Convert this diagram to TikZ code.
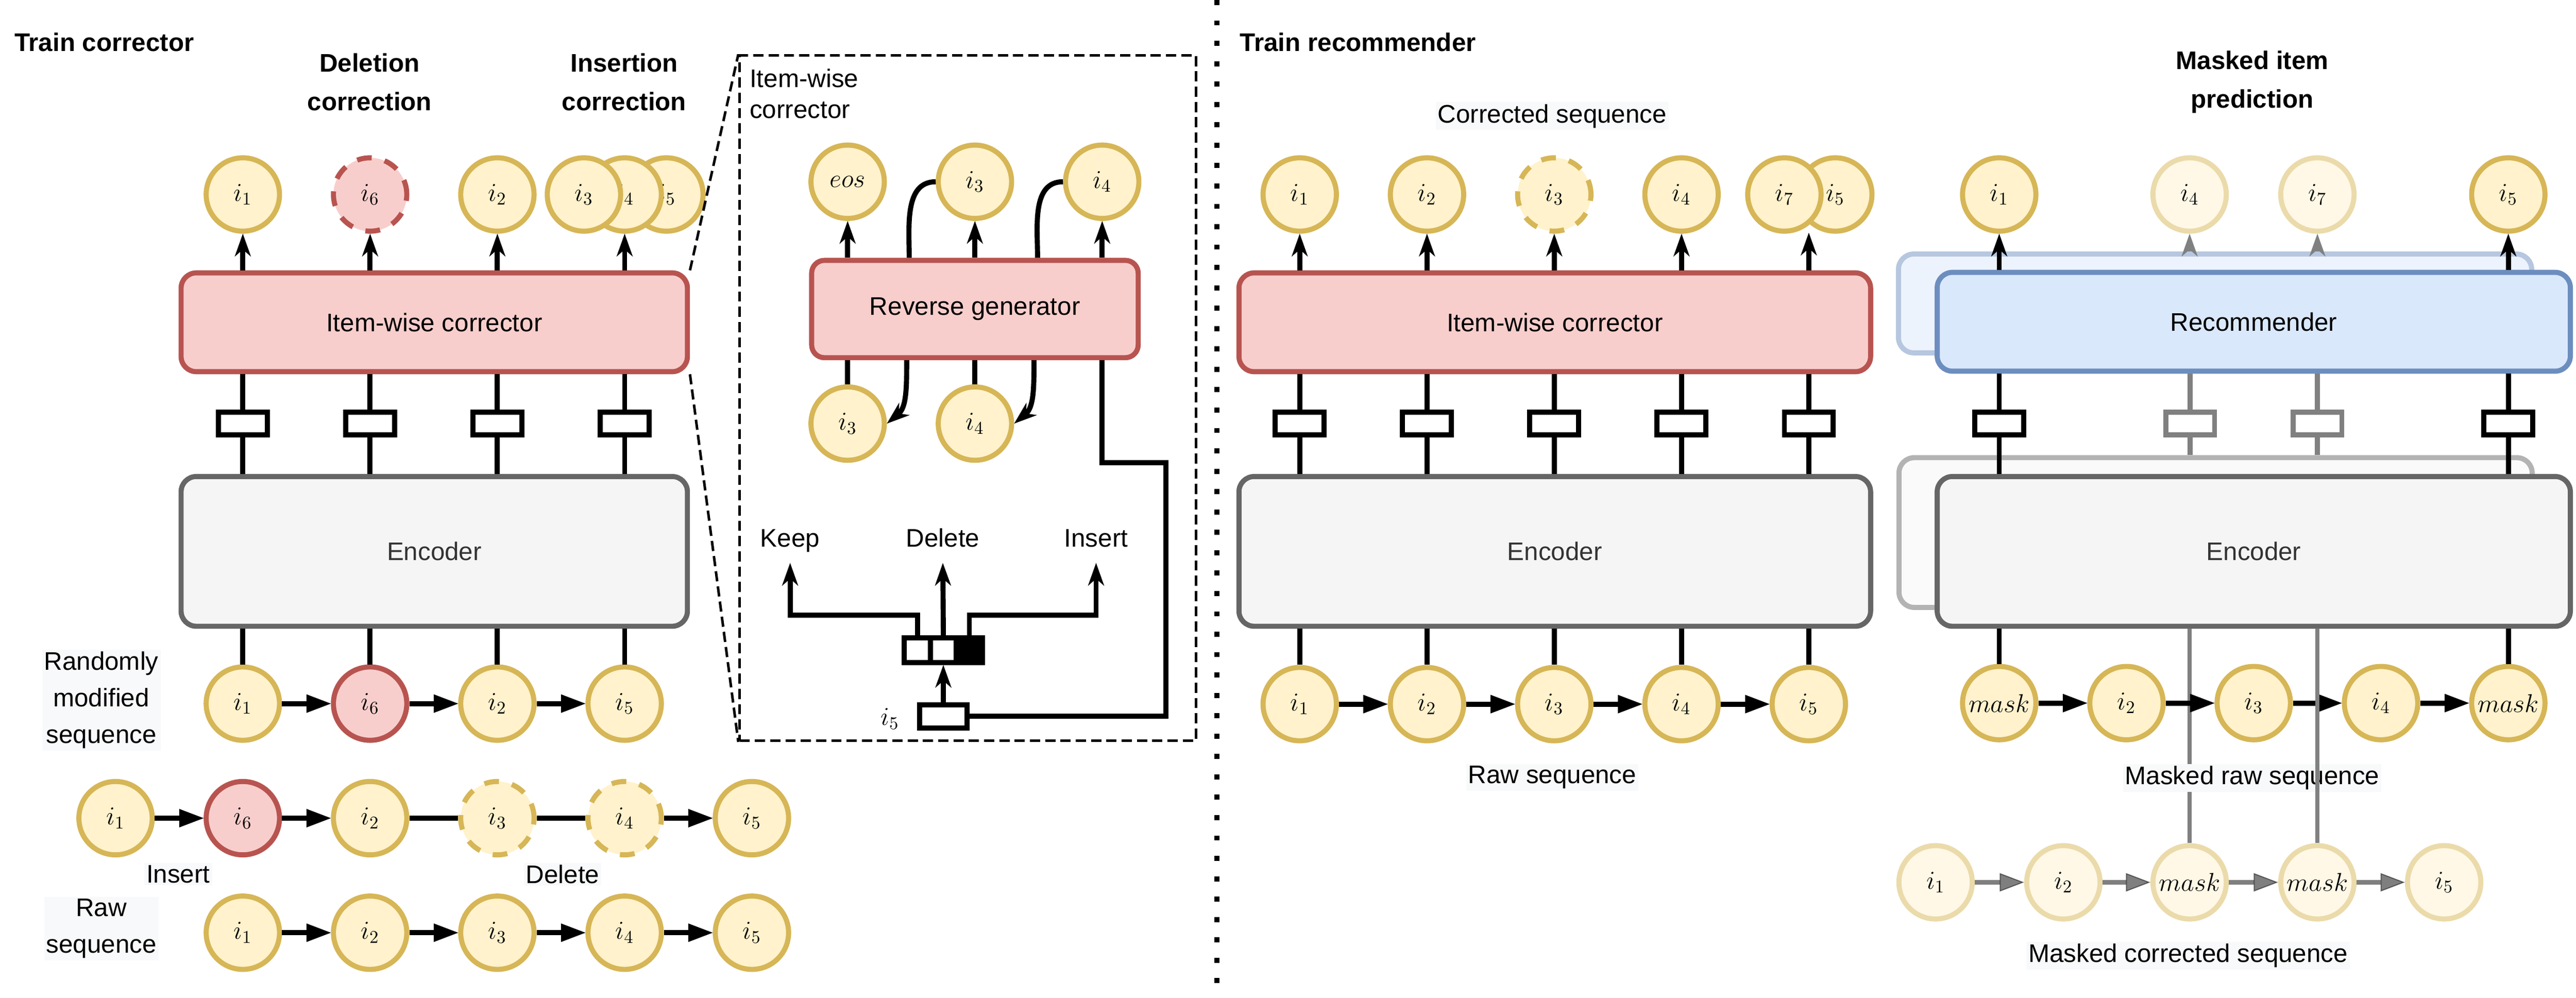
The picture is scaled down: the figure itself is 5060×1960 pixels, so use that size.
\documentclass[tikz,border=0pt]{standalone}
\usepackage{fontspec}
\setmainfont{Liberation Sans}
\usetikzlibrary{arrows.meta}

\definecolor{itemfill}{HTML}{FFF2CC}
\definecolor{itemline}{HTML}{D6B656}
\definecolor{redfill}{HTML}{F8CECC}
\definecolor{redline}{HTML}{B85450}
\definecolor{encfill}{HTML}{F5F5F5}
\definecolor{encline}{HTML}{666666}
\definecolor{enctext}{HTML}{333333}
\definecolor{recfill}{HTML}{DAE8FC}
\definecolor{recline}{HTML}{6C8EBF}
\definecolor{labelbg}{HTML}{F8F9FA}
\definecolor{fadefill}{HTML}{FFF8E6}
\definecolor{fadeline}{HTML}{EBDBAB}
\definecolor{fadeblue}{HTML}{EDF3FD}
\definecolor{fadeblueline}{HTML}{B6C7DF}
\definecolor{fadegray}{HTML}{FAFAFA}
\definecolor{fadegrayline}{HTML}{B3B3B3}

\tikzset{
  every node/.style={font=\fontsize{14.2pt}{17pt}\selectfont},
  item/.style={circle, draw=itemline, fill=itemfill, line width=0.1cm, minimum size=1.44cm, inner sep=0pt},
  added/.style={item, draw=redline, fill=redfill},
  faded/.style={item, draw=fadeline, fill=fadefill},
  gone/.style={dash pattern=on 0.29cm off 0.26cm},
  emb/.style={rectangle, draw, fill=white, line width=0.1cm, minimum width=0.96cm, minimum height=0.45cm, inner sep=0pt},
  cell/.style={rectangle, draw, fill=white, line width=0.1cm, minimum width=0.51cm, minimum height=0.48cm, inner sep=0pt},
  corrbox/.style={rectangle, rounded corners=0.3cm, draw=redline, fill=redfill, line width=0.1cm, minimum height=1.94cm},
  encbox/.style={rectangle, rounded corners=0.3cm, draw=encline, fill=encfill, text=enctext, line width=0.1cm, minimum height=2.94cm},
  recbox/.style={rectangle, rounded corners=0.3cm, draw=recline, fill=recfill, line width=0.1cm, minimum height=1.94cm},
  link/.style={line width=0.1cm},
  outarrow/.style={link, -{Stealth[length=0.45cm, width=0.32cm, inset=0.14cm, line width=0.02cm]}},
  seqarrow/.style={link, -{Triangle[length=0.48cm, width=0.36cm, line width=0.02cm]}},
  heading/.style={font=\fontsize{14.2pt}{21.6pt}\selectfont\bfseries, align=center, inner sep=0pt},
  seqlabel/.style={font=\fontsize{14.2pt}{20.5pt}\selectfont, fill=labelbg, inner sep=0.04cm, align=center},
  choice/.style={inner sep=0pt, anchor=base, text depth=0.31cm},
  zoomline/.style={line width=0.05cm, dash pattern=on 0.2cm off 0.1cm},
  divider/.style={line width=0.1cm, dash pattern=on 0.1cm off 0.3cm},
}

\begin{document}
\begin{tikzpicture}[x=0.01cm, y=-0.01cm]
\useasboundingbox (0,0) rectangle (5060,1960);

% ---- train corrector ----
\node[heading, anchor=west] (tcor) at (28,83) {Train corrector};
\node[heading] (tdel) at (726,161) {Deletion\\correction};
\node[heading] (tins) at (1226,161) {Insertion\\correction};

\node[item] (o1) at (477,382) {$i_1$};
\node[added, gone] (o6) at (727,382) {$i_6$};
\node[item] (o2) at (977,382) {$i_2$};
\node[item] (o5) at (1309,382) {$i_5$};
\node[item] (o4) at (1227,382) {$i_4$};
\node[item] (o3) at (1147,382) {$i_3$};

\node[corrbox, minimum width=9.94cm] (lcor) at (853,633) {Item-wise corrector};
\node[encbox, minimum width=9.94cm] (lenc) at (853,1083) {Encoder};
\foreach \a in {o1,o6,o2,o4} \draw[outarrow] (lcor.north -| \a) -- (\a.south);
\foreach \n/\x in {1/477,2/727,3/977,4/1227}{
  \node[emb] (le\n) at (\x,832) {};
  \draw[link] (lcor.south -| le\n) -- (le\n.north);
  \draw[link] (le\n.south) -- (le\n |- lenc.north);
}

% randomly modified sequence
\node[item] (m1) at (477,1382) {$i_1$};
\node[added] (m6) at (727,1382) {$i_6$};
\node[item] (m2) at (977,1382) {$i_2$};
\node[item] (m5) at (1227,1382) {$i_5$};
\foreach \a in {m1,m6,m2,m5} \draw[link] (lenc.south -| \a) -- (\a.north);
\draw[seqarrow] (m1) -- (m6);
\draw[seqarrow] (m6) -- (m2);
\draw[seqarrow] (m2) -- (m5);
\node[seqlabel] (tmod) at (199,1375) {Randomly\\modified\\sequence};

\node[item] (n1) at (227,1607) {$i_1$};
\node[added] (n6) at (477,1607) {$i_6$};
\node[item] (n2) at (727,1607) {$i_2$};
\node[item, gone] (n3) at (977,1607) {$i_3$};
\node[item, gone] (n4) at (1227,1607) {$i_4$};
\node[item] (n5) at (1477,1607) {$i_5$};
\draw[seqarrow] (n1) -- (n6);
\draw[seqarrow] (n6) -- (n2);
\draw[link] (n2) -- (n3);
\draw[link] (n3) -- (n4);
\draw[seqarrow] (n4) -- (n5);
\node[seqlabel] (tinsert) at (350,1717) {Insert};
\node[seqlabel] (tdelete) at (1105,1717) {Delete};

% raw sequence
\foreach \n/\x in {1/477,2/727,3/977,4/1227,5/1477} \node[item] (r\n) at (\x,1832) {$i_\n$};
\foreach \a/\b in {r1/r2,r2/r3,r3/r4,r4/r5} \draw[seqarrow] (\a) -- (\b);
\node[seqlabel] (traw) at (199,1824) {Raw\\sequence};

% ---- zoom on the corrector ----
\node[draw, line width=0.05cm, dash pattern=on 0.2cm off 0.1cm, minimum width=8.96cm, minimum height=13.45cm, inner sep=0pt] (inset) at (1901,782) {};
\draw[zoomline] (lcor.north east) -- (inset.north west);
\draw[zoomline] (lcor.south east) -- (inset.south west);
\node[align=left, anchor=west, inner sep=0pt, font=\fontsize{14.2pt}{17.4pt}\selectfont] (tinset) at (1472,184) {Item-wise\\corrector};

\node[item] (ge) at (1665,357) {$eos$};
\node[item] (g3) at (1915,357) {$i_3$};
\node[item] (g4) at (2165,357) {$i_4$};
\node[corrbox, minimum width=6.41cm, minimum height=1.91cm, rounded corners=0.25cm] (gen) at (1915,607) {Reverse generator};
\node[item] (h3) at (1665,832) {$i_3$};
\node[item] (h4) at (1915,832) {$i_4$};
\foreach \a in {ge,g3,g4} \draw[outarrow] (gen.north -| \a) -- (\a.south);
\draw[link] ([xshift=-1.29cm]gen.north) to[out=90, in=180] (g3.west);
\draw[link] ([xshift=1.23cm]gen.north) to[out=90, in=180] (g4.west);
\draw[link] (gen.south -| h3) -- (h3.north);
\draw[link] (gen.south -| h4) -- (h4.north);
\draw[outarrow] ([xshift=-1.34cm]gen.south) to[out=-90, in=40] (h3.east);
\draw[outarrow] ([xshift=1.16cm]gen.south) to[out=-90, in=40] (h4.east);

\node[choice] (keep) at (1552,1074) {Keep};
\node[choice] (delete) at (1852,1074) {Delete};
\node[choice] (insert) at (2153,1074) {Insert};
\node[cell] (k1) at (1802,1277) {};
\node[cell] (k2) at (1853,1277) {};
\node[cell, fill=black] (k3) at (1904,1277) {};
\node[emb, minimum width=0.93cm] (ri5) at (1853,1407) {};
\node (ri5l) at (1748,1412) {$i_5$};
\coordinate (kl) at (1552,1208);
\coordinate (kr) at (2153,1208);
\coordinate (gr) at (2290,909);
\draw[outarrow] (k1.north) |- (kl) -- (keep.south);
\draw[outarrow] (k2.north) -- (delete.south);
\draw[outarrow] (k3.north) |- (kr) -- (insert.south);
\draw[outarrow] (ri5.north) -- (k2.south);
\draw[link] (gen.south -| g4) |- (gr) |- (ri5.east);

% ---- train recommender ----
\draw[divider] (2390,0) -- (2390,1960);
\node[heading, anchor=west] (trec) at (2435,83) {Train recommender};
\node[seqlabel] (tcs) at (3049,228) {Corrected sequence};

\node[item] (p1) at (2553,382) {$i_1$};
\node[item] (p2) at (2803,382) {$i_2$};
\node[item, gone] (p3) at (3053,382) {$i_3$};
\node[item] (p4) at (3303,382) {$i_4$};
\node[item] (p5) at (3605,382) {$i_5$};
\node[item] (p7) at (3505,382) {$i_7$};
\coordinate (p57) at (3553,457);

\node[corrbox, minimum width=12.4cm] (rcor) at (3054,633) {Item-wise corrector};
\node[encbox, minimum width=12.4cm] (renc) at (3054,1083) {Encoder};
\foreach \a in {p1,p2,p3,p4} \draw[outarrow] (rcor.north -| \a) -- (\a.south);
\draw[outarrow] (rcor.north -| p57) -- (p57);
\foreach \n/\x in {1/2553,2/2803,3/3053,4/3303,5/3553}{
  \node[emb] (re\n) at (\x,832) {};
  \draw[link] (rcor.south -| re\n) -- (re\n.north);
  \draw[link] (re\n.south) -- (re\n |- renc.north);
  \node[item] (q\n) at (\x,1383) {$i_\n$};
  \draw[link] (renc.south -| q\n) -- (q\n.north);
}
\foreach \a/\b in {q1/q2,q2/q3,q3/q4,q4/q5} \draw[seqarrow] (\a) -- (\b);
\node[seqlabel] (trs) at (3049,1527) {Raw sequence};

% ---- masked item prediction ----
\node[heading] (tmask) at (4424,161) {Masked item\\prediction};
\node[item] (s1) at (3927,382) {$i_1$};
\node[faded] (s4) at (4301,382) {$i_4$};
\node[faded] (s7) at (4552,382) {$i_7$};
\node[item] (s5) at (4927,382) {$i_5$};

\node[recbox, draw=fadeblueline, fill=fadeblue, minimum width=12.43cm] (rback) at (4351,596) {};
\node[emb, draw=black!50] (me2) at (4302,832) {};
\node[emb, draw=black!50] (me3) at (4552,832) {};
\draw[link, black!50] (me2.north) -- (me2 |- rback.south);
\draw[link, black!50] (me3.north) -- (me3 |- rback.south);
\draw[outarrow, black!50] (rback.north -| s4) -- (s4.south);
\draw[outarrow, black!50] (rback.north -| s7) -- (s7.south);
\node[recbox, minimum width=12.43cm] (rfront) at (4427,632) {Recommender};
\draw[outarrow] (rfront.north -| s1) -- (s1.south);
\draw[outarrow] (rfront.north -| s5) -- (s5.south);
\node[emb] (me1) at (3927,832) {};
\node[emb] (me4) at (4927,832) {};
\draw[link] (rfront.south -| me1) -- (me1.north);
\draw[link] (rfront.south -| me4) -- (me4.north);

\node[encbox, draw=fadegrayline, fill=fadegray, minimum width=12.43cm] (eback) at (4352,1046) {};
\draw[link, black!50] (me2.south) -- (me2 |- eback.north);
\draw[link, black!50] (me3.south) -- (me3 |- eback.north);
\node[encbox, minimum width=12.43cm] (efront) at (4427,1083) {Encoder};
\draw[link] (me1.south) -- (me1 |- efront.north);
\draw[link] (me4.south) -- (me4 |- efront.north);

% masked corrected sequence
\foreach \n/\x/\lab in {1/3802/i_1,2/4053/i_2,3/4301/mask,4/4552/mask,5/4801/i_5}
  \node[faded] (v\n) at (\x,1733) {$\lab$};
\foreach \a/\b in {v1/v2,v2/v3,v3/v4,v4/v5} \draw[seqarrow, opacity=0.5] (\a) -- (\b);
\draw[link, black!50, line width=0.08cm] (efront.south -| v3) -- (v3.north);

% masked raw sequence
\foreach \n/\x/\lab in {1/3927/mask,2/4177/i_2,3/4427/i_3,4/4677/i_4,5/4927/mask}
  \node[item] (u\n) at (\x,1381) {$\lab$};
\foreach \a/\b in {u1/u2,u2/u3,u3/u4,u4/u5} \draw[seqarrow] (\a) -- (\b);
\draw[link] (efront.south -| u1) -- (u1.north);
\draw[link] (efront.south -| u5) -- (u5.north);
\node[seqlabel] (tmr) at (4424,1528) {Masked raw sequence};
\draw[link, black!50, line width=0.08cm] (efront.south -| v4) -- (v4.north);
\node[seqlabel] (tmc) at (4298,1877) {Masked corrected sequence};
\end{tikzpicture}
\end{document}
